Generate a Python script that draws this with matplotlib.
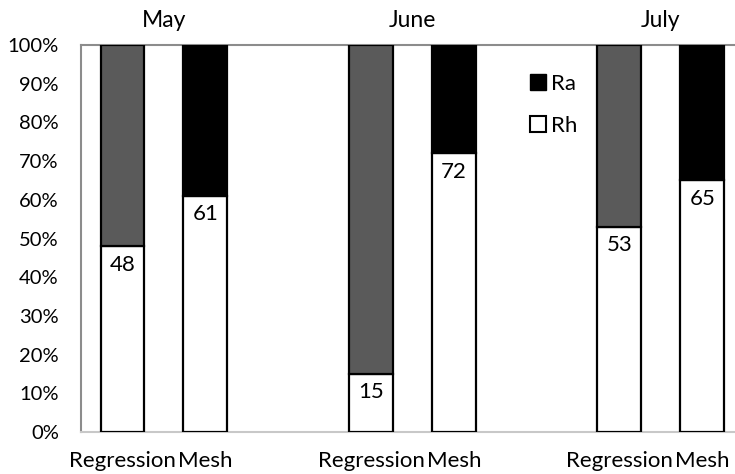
import matplotlib
matplotlib.use("Agg")
import matplotlib.pyplot as plt
import numpy as np
from matplotlib.patches import Patch

months = ["May", "June", "July"]
methods = ["Regression", "Mesh"]
rh_regression = [48, 15, 53]
rh_mesh = [61, 72, 65]
yticks = [0, 10, 20, 30, 40, 50, 60, 70, 80, 90, 100]

plt.rcParams['font.family'] = ['Lato', 'DejaVu Sans']

fig = plt.figure(figsize=(7.35, 4.74), dpi=100)
ax = fig.add_axes([81/735, (474-432)/474, (735-81)/735, (432-45)/474])

group = np.arange(len(months))
off = 0.167
w = 0.177
xr = group - off
xm = group + off
rh_r = np.array(rh_regression)
rh_m = np.array(rh_mesh)

kw = dict(width=w, edgecolor='black', linewidth=1.6, zorder=3)
ax.bar(xr, rh_r, color='white', **kw)
ax.bar(xr, 100 - rh_r, bottom=rh_r, color='#5a5a5a', **kw)
ax.bar(xm, rh_m, color='white', **kw)
ax.bar(xm, 100 - rh_m, bottom=rh_m, color='black', **kw)

for x, v in zip(xr, rh_r):
    ax.annotate(str(v), (x, v), xytext=(0, -6), textcoords='offset points',
                ha='center', va='top', fontsize=16, zorder=4)
for x, v in zip(xm, rh_m):
    ax.annotate(str(v), (x, v), xytext=(0, -6), textcoords='offset points',
                ha='center', va='top', fontsize=16, zorder=4)

for g, m in zip(group, months):
    ax.text(g, 104.7, m, ha='center', va='baseline', fontsize=16.5)

ax.set_xlim(-0.334, 2.298)
ax.set_ylim(0, 100)
ax.set_yticks(yticks)
ax.set_yticklabels([f"{t}%" for t in yticks], fontsize=14.5)
ticks = np.concatenate([[a, b] for a, b in zip(xr, xm)])
labels = methods * len(months)
ax.set_xticks(ticks)
ax.set_xticklabels(labels, fontsize=16)
ax.tick_params(axis='both', length=0)
ax.tick_params(axis='x', pad=14)
ax.tick_params(axis='y', pad=16)

ax.spines['right'].set_visible(False)
ax.spines['top'].set_color('#8c8c8c')
ax.spines['left'].set_color('#8c8c8c')
ax.spines['bottom'].set_color('#c8c8c8')
for s in ['top', 'left', 'bottom']:
    ax.spines[s].set_linewidth(1.5)

handles = [Patch(facecolor='black', edgecolor='black', label='Ra'),
           Patch(facecolor='white', edgecolor='black', linewidth=1.5, label='Rh')]
ax.legend(handles=handles, loc='upper left', bbox_to_anchor=(0.656, 0.978),
          frameon=False, fontsize=16, handlelength=0.7, handleheight=0.7,
          handletextpad=0.25, labelspacing=1.0)

fig.savefig("out.png", dpi=100)
